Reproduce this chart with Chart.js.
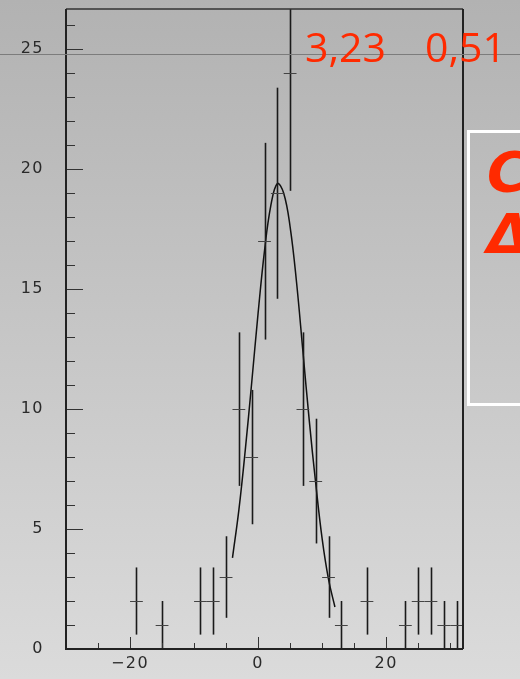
<!DOCTYPE html>
<html>
<head>
<meta charset="utf-8">
<script src="https://cdn.jsdelivr.net/npm/chart.js@4/dist/chart.umd.min.js"></script>
<style>
  html, body { margin: 0; padding: 0; }
  body { width: 520px; height: 679px; overflow: hidden; position: relative;
         background: linear-gradient(#b2b2b2, #dbdbdb); }
  #wrap { position: absolute; left: 0; top: 0; width: 520px; height: 679px; }
  .hline { position: absolute; left: 0; top: 54px; width: 520px; height: 1px; background: #7c7c7c; }
  .fitval { position: absolute; top: 26px; font: 41px/41px 'Open Sans', sans-serif; color: #ff2a00; white-space: nowrap; }
  .box { position: absolute; left: 467px; top: 130px; width: 100px; height: 270px; border: 3px solid #fff; }
  .sym { position: absolute; left: 17px; top: 8px; font: italic bold 56px/62px 'DejaVu Sans', sans-serif; color: #ff2a00; }
</style>
</head>
<body>
<div id="wrap"><canvas id="histo"></canvas></div>
<div class="hline"></div>
<div class="fitval" style="left:305px">3,23</div>
<div class="fitval" style="left:425px">0,51</div>
<div class="box"><div class="sym">C<br>Δ</div></div>
<script>
// histogram bins (centres, bin width 2) that have entries
const binX      = [-19, -15, -9, -7, -5, -3, -1, 1, 3, 5, 7, 9, 11, 13, 17, 23, 25, 27, 29, 31];
const binCounts = [2, 1, 2, 2, 3, 10, 8, 17, 19, 24, 10, 7, 3, 1, 2, 1, 2, 2, 1, 1];
const binErrors = [1.4, 1, 1.4, 1.4, 1.7, 3.2, 2.8, 4.1, 4.4, 4.9, 3.2, 2.6, 1.7, 1, 1.4, 1, 1.4, 1.4, 1, 1];
const binWidth = 2;

// gaussian fit curve
const fitX = [-4, -3, -2, -1, 0, 1, 2, 3, 4, 5, 6, 7, 8, 9, 10, 11, 12];
const fitY = [3.8, 5.8, 8.3, 11.1, 14.0, 16.6, 18.5, 19.4, 19.0, 17.6, 15.3, 12.4, 9.5, 6.9, 4.6, 2.9, 1.75];

const xTicks = [-20, 0, 20];
const yTicks = [0, 5, 10, 15, 20, 25];
const xMinorTicks = [-25, -20, -15, -10, -5, 0, 5, 10, 15, 20, 25, 30];

const rootStyle = {
  id: 'rootStyle',
  beforeUpdate(chart) { chart.ctx.letterSpacing = '1.5px'; },
  beforeDraw(chart) { chart.ctx.letterSpacing = '1.5px'; },
  afterDatasetsDraw(chart) {
    const { ctx, chartArea: a, scales: { x, y } } = chart;
    ctx.save();
    ctx.beginPath();
    ctx.rect(a.left, a.top, a.right - a.left, a.bottom - a.top);
    ctx.clip();
    binX.forEach((bx, i) => {
      const px = Math.round(x.getPixelForValue(bx)) + 0.5;
      const py = Math.round(y.getPixelForValue(binCounts[i])) + 0.5;
      ctx.strokeStyle = '#1a1a1a';
      ctx.lineWidth = 1.6;
      ctx.beginPath();
      ctx.moveTo(px, y.getPixelForValue(binCounts[i] - binErrors[i]));
      ctx.lineTo(px, y.getPixelForValue(binCounts[i] + binErrors[i]));
      ctx.stroke();
      ctx.strokeStyle = '#444';
      ctx.lineWidth = 1;
      ctx.beginPath();
      ctx.moveTo(x.getPixelForValue(bx - binWidth / 2), py);
      ctx.lineTo(x.getPixelForValue(bx + binWidth / 2), py);
      ctx.stroke();
    });
    ctx.restore();
  },
  afterDraw(chart) {
    const { ctx, chartArea: a, scales: { x, y } } = chart;
    ctx.save();
    // inside ticks
    ctx.strokeStyle = '#333';
    ctx.lineWidth = 1;
    for (let v = 1; v <= 26; v++) {
      const py = Math.round(y.getPixelForValue(v)) + 0.5;
      ctx.beginPath();
      ctx.moveTo(a.left, py);
      ctx.lineTo(a.left + (v % 5 === 0 ? 17 : 9), py);
      ctx.stroke();
    }
    xMinorTicks.forEach(v => {
      const px = Math.round(x.getPixelForValue(v)) + 0.5;
      ctx.beginPath();
      ctx.moveTo(px, a.bottom);
      ctx.lineTo(px, a.bottom - (v % 20 === 0 ? 12 : 6));
      ctx.stroke();
    });
    // frame
    ctx.strokeStyle = '#333';
    ctx.lineWidth = 1.5;
    ctx.beginPath();
    ctx.moveTo(a.left, a.top);
    ctx.lineTo(a.right, a.top);
    ctx.stroke();
    ctx.strokeStyle = '#222';
    ctx.lineWidth = 2;
    ctx.beginPath();
    ctx.moveTo(a.left, a.top);
    ctx.lineTo(a.left, a.bottom);
    ctx.lineTo(a.right, a.bottom);
    ctx.moveTo(a.right, a.top);
    ctx.lineTo(a.right, a.bottom);
    ctx.stroke();
    ctx.restore();
  }
};

const tickFont = { family: 'DejaVu Sans', size: 16 };

new Chart(document.getElementById('histo').getContext('2d'), {
  type: 'scatter',
  data: {
    datasets: [
      {
        label: 'fit',
        data: fitX.map((v, i) => ({ x: v, y: fitY[i] })),
        showLine: true, tension: 0.4, borderColor: '#111', borderWidth: 1.5,
        pointRadius: 0, fill: false,
      },
      {
        label: 'histo',
        data: binX.map((v, i) => ({ x: v, y: binCounts[i] })),
        pointRadius: 0,
      },
    ],
  },
  options: {
    responsive: true, maintainAspectRatio: false, animation: false,
    layout: { padding: { left: 0, right: 57, top: 9, bottom: 0 } },
    plugins: { legend: { display: false }, tooltip: { enabled: false } },
    scales: {
      x: {
        type: 'linear', min: -30, max: 32,
        afterBuildTicks: s => { s.ticks = xTicks.map(v => ({ value: v })); },
        afterFit: s => { s.height = 30; s.paddingLeft = 0; s.paddingRight = 0; },
        grid: { display: false, drawTicks: false, tickLength: 0 },
        border: { display: false },
        ticks: {
          padding: 5, color: '#2a2a2a', font: tickFont, maxRotation: 0, autoSkip: false,
          callback: v => (v < 0 ? '\u2212' + Math.abs(v) : String(v)),
        },
      },
      y: {
        min: 0, max: 26.68,
        afterBuildTicks: s => { s.ticks = yTicks.map(v => ({ value: v })); },
        afterFit: s => { s.width = 66; s.paddingTop = 0; s.paddingBottom = 0; },
        grid: { display: false, drawTicks: false, tickLength: 0 },
        border: { display: false },
        ticks: { padding: 22, color: '#2a2a2a', font: tickFont, autoSkip: false },
      },
    },
  },
  plugins: [rootStyle],
});
</script>
</body>
</html>
